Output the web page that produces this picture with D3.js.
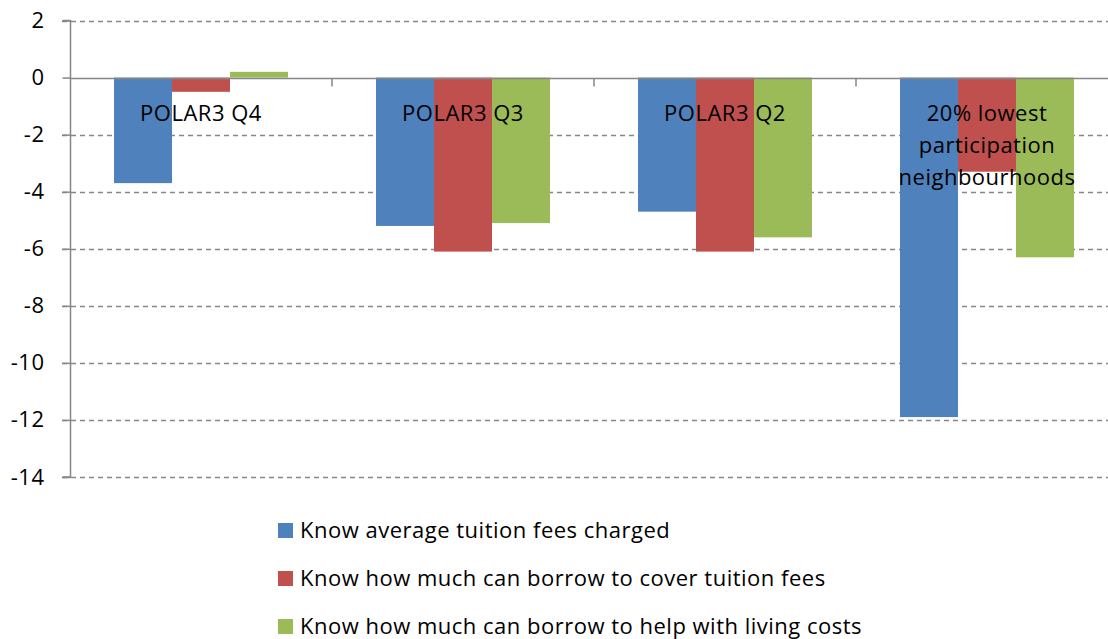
<!DOCTYPE html>
<html><head><meta charset="utf-8">
<script src="https://cdn.jsdelivr.net/npm/d3@7"></script>
<style>body{margin:0;background:#fff}svg{display:block}text{font-family:"Open Sans",sans-serif;fill:#000}</style>
</head><body><svg id="c" width="1108" height="639"></svg>
<script>
const categories = ["POLAR3 Q4", "POLAR3 Q3", "POLAR3 Q2", "20% lowest participation neighbourhoods"];
const categoryLines = [["POLAR3 Q4"], ["POLAR3 Q3"], ["POLAR3 Q2"], ["20% lowest", "participation", "neighbourhoods"]];
const seriesNames = ["Know average tuition fees charged", "Know how much can borrow to cover tuition fees", "Know how much can borrow to help with living costs"];
const avgFees = [-3.7, -5.2, -4.7, -11.9];
const borrowFees = [-0.5, -6.1, -6.1, -3.3];
const borrowLiving = [0.2, -5.1, -5.6, -6.3];
const seriesValues = [avgFees, borrowFees, borrowLiving];
const colors = ["#4F81BD", "#C0504D", "#9BBB59"];
const yTicks = [2, 0, -2, -4, -6, -8, -10, -12, -14];

(function () {
const svg = d3.select("#c");
const pLeft = 70, pRight = 1118, pTop = 20.5, pBottom = 477;
const FS = "22px", LS = "0.5px";
const y = d3.scaleLinear().domain([-14, 2]).range([pBottom, pTop]);
const x0 = d3.scaleBand().domain(categories).range([pLeft, pRight]).paddingInner(0.336).paddingOuter(0.168);
const x1 = d3.scaleBand().domain(d3.range(3)).range([0, x0.bandwidth()]);

// gridlines
svg.append("g").selectAll("line").data(yTicks.filter(d => d !== 0)).join("line")
  .attr("x1", pLeft - 8).attr("x2", 1108).attr("y1", d => Math.round(y(d)) + 0.5).attr("y2", d => Math.round(y(d)) + 0.5)
  .attr("stroke", "#868686").attr("stroke-width", 1.5).attr("stroke-dasharray", "5,4");

// y axis
const yAxis = d3.axisLeft(y).tickValues(yTicks).tickSize(8).tickFormat(d => String(d));
const gy = svg.append("g").attr("transform", `translate(${pLeft + 0.5},0)`).call(yAxis);
gy.select(".domain").attr("stroke", "#868686").attr("stroke-width", 1.5).attr("d", `M-8,${y(2)}H0V${y(-14)}H-8`);
gy.selectAll(".tick line").attr("stroke", "#868686").attr("stroke-width", 1.5);
gy.selectAll(".tick text").attr("x", -26).style("font-size", FS).style("letter-spacing", LS)
  .style("font-family", "'Open Sans',sans-serif").attr("fill", "#000");

// bars
const groups = svg.append("g").selectAll("g").data(categories).join("g")
  .attr("transform", d => `translate(${x0(d)},0)`);
groups.selectAll("rect").data((d, i) => seriesValues.map((s, k) => ({k, v: s[i]}))).join("rect")
  .attr("x", d => x1(d.k)).attr("width", x1.bandwidth())
  .attr("y", d => y(Math.max(0, d.v))).attr("height", d => Math.abs(y(d.v) - y(0)))
  .attr("fill", d => colors[d.k]);

// zero axis line + category ticks
const xAxis = d3.axisBottom(x0).tickSize(0).tickFormat("");
const gx = svg.append("g").attr("transform", `translate(0,${Math.round(y(0)) + 0.5})`).call(xAxis);
gx.select(".domain").attr("stroke", "#868686").attr("stroke-width", 1.5).attr("d", `M${pLeft},0H1108`);
const boundaries = categories.slice(1).map(c => x0(c) - x0.step() * x0.paddingInner() / 2);
gx.selectAll(".sep").data(boundaries).join("line").attr("class", "sep")
  .attr("x1", d => d).attr("x2", d => d).attr("y1", 0).attr("y2", 8)
  .attr("stroke", "#868686").attr("stroke-width", 1.5);

// category labels
const lab = svg.append("g").selectAll("text").data(categories).join("text")
  .attr("text-anchor", "middle").style("font-size", FS).style("letter-spacing", LS)
  .attr("transform", d => `translate(${x0(d) + x0.bandwidth() / 2},${y(0) + 43})`);
lab.selectAll("tspan").data((d, i) => categoryLines[i]).join("tspan")
  .attr("x", 0).attr("dy", (d, j) => j === 0 ? 0 : 32).text(d => d);

// legend
const leg = svg.append("g").selectAll("g").data(seriesNames).join("g")
  .attr("transform", (d, i) => `translate(278,${538 + i * 48})`);
leg.append("rect").attr("x", 0).attr("y", -15).attr("width", 15).attr("height", 15).attr("fill", (d, i) => colors[i]);
leg.append("text").attr("x", 22).attr("y", 0).style("font-size", FS).style("letter-spacing", LS).text(d => d);
})();
</script></body></html>
